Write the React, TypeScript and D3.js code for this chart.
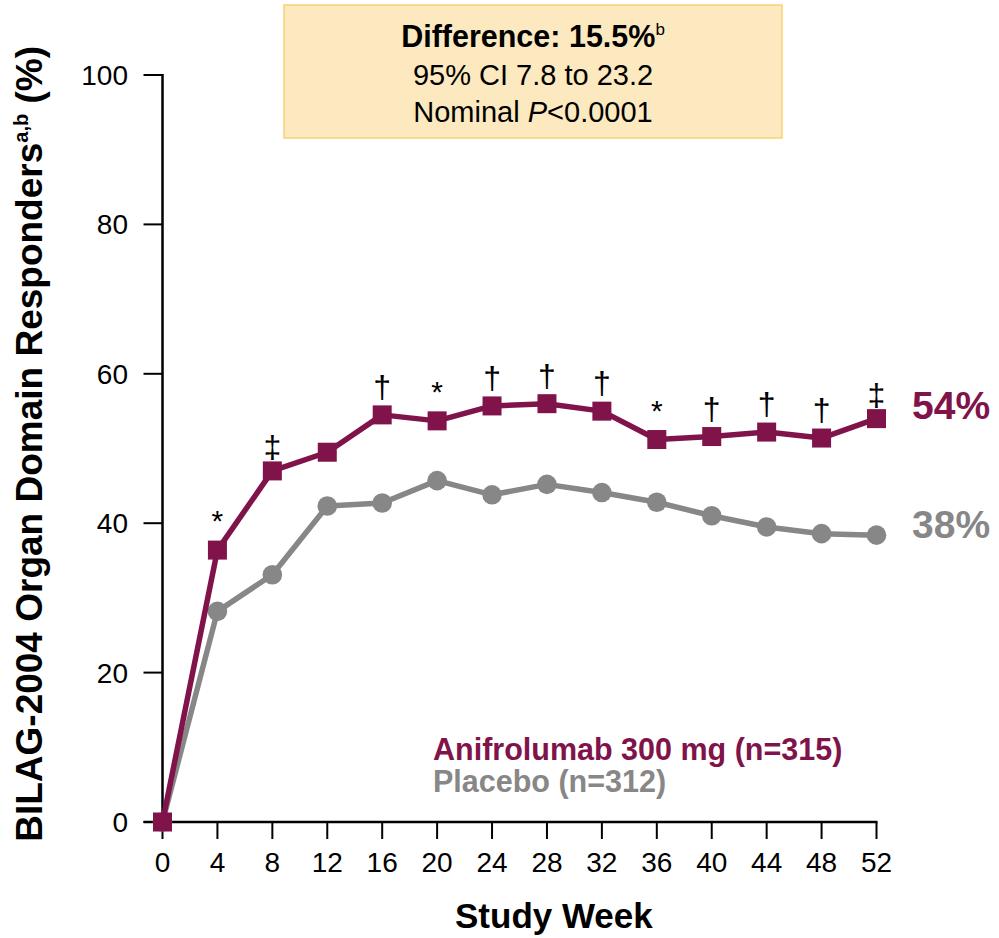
import React from "react";
import * as d3 from "d3";

const weeks = [0, 4, 8, 12, 16, 20, 24, 28, 32, 36, 40, 44, 48, 52];
const anifrolumab = [0, 36.4, 47.0, 49.5, 54.5, 53.7, 55.7, 56.0, 55.0, 51.2, 51.6, 52.2, 51.4, 54.0];
const placebo = [0, 28.2, 33.1, 42.3, 42.7, 45.7, 43.8, 45.2, 44.1, 42.8, 41.0, 39.5, 38.6, 38.4];
const sigMarks = ["", "*", "‡", "", "†", "*", "†", "†", "†", "*", "†", "†", "†", "‡"];
const yTicks = [0, 20, 40, 60, 80, 100];

const MAROON = "#80134a";
const GRAY = "#878787";
const FONT = "'Liberation Sans', Arial, sans-serif";

export default function App() {
  const W = 999, H = 938;
  const x = d3.scaleLinear().domain([0, 52]).range([162.5, 876.5]);
  const y = d3.scaleLinear().domain([0, 100]).range([822, 75]);
  const line = d3.line<number>().x((_, i) => x(weeks[i])).y((d) => y(d));

  const markOffset = (m: string) => (m === "*" ? 19 : m === "†" ? 17 : 13);
  const markSize = (m: string) => (m === "*" ? 30 : 32);

  return (
    <svg width={W} height={H} style={{ position: "absolute", left: 0, top: 0 }} fontFamily={FONT}>
      <rect x={0} y={0} width={W} height={H} fill="#fff" />
      {/* info box */}
      <rect x={284} y={5} width={498} height={133} fill="#fde9bf" stroke="#f8d272" strokeWidth={1.5} />
      <text x={533} y={47} textAnchor="middle" fontSize={30.5} fill="#000">
        <tspan fontWeight="bold">Difference: 15.5%</tspan>
        <tspan fontSize={17} dy={-12}>b</tspan>
      </text>
      <text x={533} y={85} textAnchor="middle" fontSize={29} fill="#000">95% CI 7.8 to 23.2</text>
      <text x={533} y={122} textAnchor="middle" fontSize={29} fill="#000">
        Nominal <tspan fontStyle="italic">P</tspan>&lt;0.0001
      </text>

      {/* y axis */}
      <line x1={x(0)} x2={x(0)} y1={y(100) - 1} y2={y(0)} stroke="#000" strokeWidth={2.5} />
      {yTicks.map((t) => (
        <g key={t}>
          <line x1={x(0) - 19} x2={x(0)} y1={y(t)} y2={y(t)} stroke="#000" strokeWidth={2} />
          <text x={128} y={y(t) + 10} textAnchor="end" fontSize={28} fill="#000">{t}</text>
        </g>
      ))}
      {/* x axis */}
      <line x1={x(0) - 19} x2={x(52) + 1} y1={y(0)} y2={y(0)} stroke="#000" strokeWidth={2.5} />
      {weeks.map((w) => (
        <g key={w}>
          <line x1={x(w)} x2={x(w)} y1={y(0)} y2={y(0) + 17} stroke="#000" strokeWidth={2} />
          <text x={x(w)} y={y(0) + 50} textAnchor="middle" fontSize={28} fill="#000">{w}</text>
        </g>
      ))}
      <text x={455} y={928} textAnchor="start" fontSize={35} fontWeight="bold" fill="#000">Study Week</text>
      <text transform={`translate(42,46) rotate(-90)`} textAnchor="end" fontSize={37} fontWeight="bold" fill="#000">
        BILAG-2004 Organ Domain Responders<tspan fontSize={20} dy={-14}>a,b</tspan><tspan dy={14}> (%)</tspan>
      </text>

      {/* placebo */}
      <path d={line(placebo) || ""} fill="none" stroke={GRAY} strokeWidth={5.5} strokeLinejoin="round" />
      {placebo.map((v, i) => (
        <circle key={i} cx={x(weeks[i])} cy={y(v)} r={9.8} fill={GRAY} />
      ))}
      {/* anifrolumab */}
      <path d={line(anifrolumab) || ""} fill="none" stroke={MAROON} strokeWidth={5.5} strokeLinejoin="round" />
      {anifrolumab.map((v, i) => (
        <rect key={i} x={x(weeks[i]) - 9.5} y={y(v) - 9.5} width={19} height={19} fill={MAROON} />
      ))}
      {sigMarks.map((m, i) =>
        m ? (
          <text key={i} x={x(weeks[i])} y={y(anifrolumab[i]) - markOffset(m)} textAnchor="middle" fontSize={markSize(m)} fill="#000">
            {m}
          </text>
        ) : null
      )}

      {/* end labels */}
      <text x={912} y={y(54)} fontSize={39} fontWeight="bold" fill={MAROON}>54%</text>
      <text x={912} y={y(38)} fontSize={39} fontWeight="bold" fill={GRAY}>38%</text>

      {/* legend */}
      <text x={433} y={760} fontSize={30.5} fontWeight="bold" fill={MAROON}>Anifrolumab 300 mg (n=315)</text>
      <text x={433} y={792} fontSize={30.5} fontWeight="bold" fill={GRAY}>Placebo (n=312)</text>
    </svg>
  );
}
